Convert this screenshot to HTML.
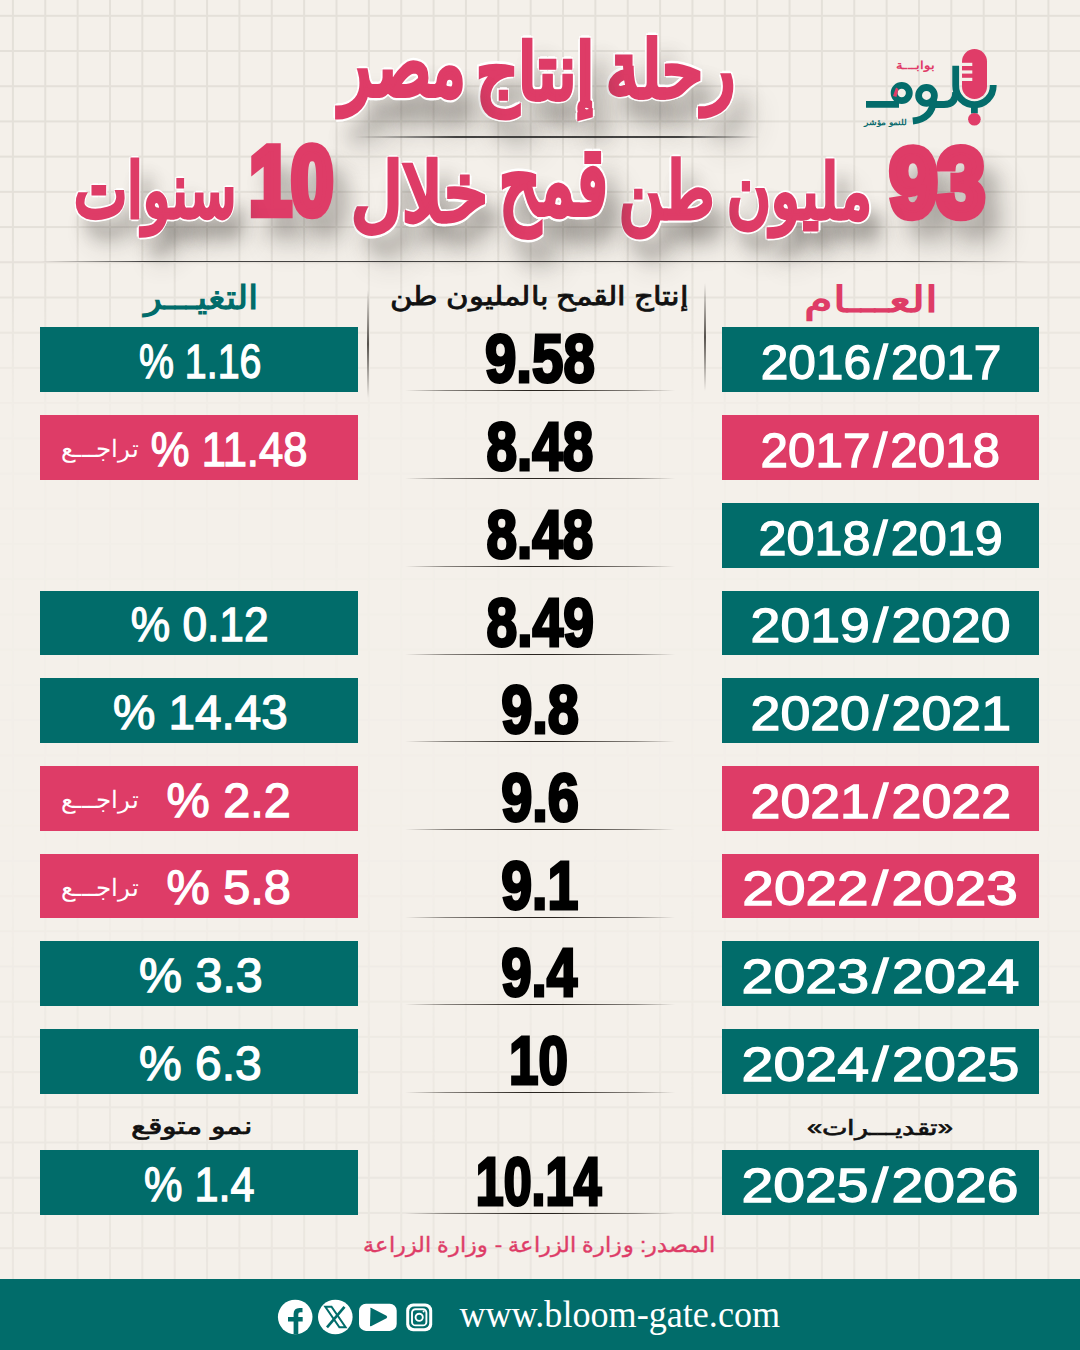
<!DOCTYPE html><html lang="ar"><head><meta charset="utf-8"><title>رحلة إنتاج مصر - 93 مليون طن قمح خلال 10 سنوات</title><style>*{margin:0;padding:0;box-sizing:border-box}
html,body{width:1080px;height:1350px;overflow:hidden}
body{position:relative;font-family:"Liberation Sans",sans-serif}
.tx{position:absolute;white-space:nowrap;transform-origin:0 0}
.sl{display:inline-block;margin:0 3px}
body{background:#f4f0ea}
.bar{position:absolute;height:64.5px;width:317.5px}
.sep{position:absolute;left:405px;width:270px;height:1.2px;background:linear-gradient(90deg,rgba(50,45,40,0),rgba(50,45,40,.55) 15%,rgba(20,15,10,.9) 45%,rgba(20,15,10,.9) 55%,rgba(50,45,40,.55) 85%,rgba(50,45,40,0))}
.vl{position:absolute;width:1.6px;background:linear-gradient(180deg,rgba(60,55,50,0),rgba(60,55,50,.85) 50%,rgba(60,55,50,0))}
.hl{position:absolute;height:1.6px}
.foot{position:absolute;left:0;top:1279px;width:1080px;height:71px;background:#016c6a}
</style></head><body><svg class="grid" width="1080" height="1350" viewBox="0 0 1080 1350" style="position:absolute;left:0;top:0;-webkit-mask-image:linear-gradient(180deg,#000 0,#000 240px,rgba(0,0,0,.8) 300px,rgba(0,0,0,.55) 340px,rgba(0,0,0,.1) 420px,rgba(0,0,0,.04) 850px,rgba(0,0,0,.3) 1000px,rgba(0,0,0,.55) 1150px,rgba(0,0,0,.65) 1350px);mask-image:linear-gradient(180deg,#000 0,#000 240px,rgba(0,0,0,.8) 300px,rgba(0,0,0,.55) 340px,rgba(0,0,0,.1) 420px,rgba(0,0,0,.04) 850px,rgba(0,0,0,.3) 1000px,rgba(0,0,0,.55) 1150px,rgba(0,0,0,.65) 1350px)"><g fill="#e4e0d9"><rect x="11.90" y="0" width="2" height="1350"/><rect x="44.26" y="0" width="2" height="1350"/><rect x="76.62" y="0" width="2" height="1350"/><rect x="108.98" y="0" width="2" height="1350"/><rect x="141.34" y="0" width="2" height="1350"/><rect x="173.70" y="0" width="2" height="1350"/><rect x="206.06" y="0" width="2" height="1350"/><rect x="238.42" y="0" width="2" height="1350"/><rect x="270.78" y="0" width="2" height="1350"/><rect x="303.14" y="0" width="2" height="1350"/><rect x="335.50" y="0" width="2" height="1350"/><rect x="367.86" y="0" width="2" height="1350"/><rect x="400.22" y="0" width="2" height="1350"/><rect x="432.58" y="0" width="2" height="1350"/><rect x="464.94" y="0" width="2" height="1350"/><rect x="497.30" y="0" width="2" height="1350"/><rect x="529.66" y="0" width="2" height="1350"/><rect x="562.02" y="0" width="2" height="1350"/><rect x="594.38" y="0" width="2" height="1350"/><rect x="626.74" y="0" width="2" height="1350"/><rect x="659.10" y="0" width="2" height="1350"/><rect x="691.46" y="0" width="2" height="1350"/><rect x="723.82" y="0" width="2" height="1350"/><rect x="756.18" y="0" width="2" height="1350"/><rect x="788.54" y="0" width="2" height="1350"/><rect x="820.90" y="0" width="2" height="1350"/><rect x="853.26" y="0" width="2" height="1350"/><rect x="885.62" y="0" width="2" height="1350"/><rect x="917.98" y="0" width="2" height="1350"/><rect x="950.34" y="0" width="2" height="1350"/><rect x="982.70" y="0" width="2" height="1350"/><rect x="1015.06" y="0" width="2" height="1350"/><rect x="1047.42" y="0" width="2" height="1350"/><rect x="0" y="14.80" width="1080" height="2"/><rect x="0" y="50.01" width="1080" height="2"/><rect x="0" y="85.22" width="1080" height="2"/><rect x="0" y="120.43" width="1080" height="2"/><rect x="0" y="155.64" width="1080" height="2"/><rect x="0" y="190.85" width="1080" height="2"/><rect x="0" y="226.06" width="1080" height="2"/><rect x="0" y="261.27" width="1080" height="2"/><rect x="0" y="296.48" width="1080" height="2"/><rect x="0" y="331.69" width="1080" height="2"/><rect x="0" y="366.90" width="1080" height="2"/><rect x="0" y="402.11" width="1080" height="2"/><rect x="0" y="437.32" width="1080" height="2"/><rect x="0" y="472.53" width="1080" height="2"/><rect x="0" y="507.74" width="1080" height="2"/><rect x="0" y="542.95" width="1080" height="2"/><rect x="0" y="578.16" width="1080" height="2"/><rect x="0" y="613.37" width="1080" height="2"/><rect x="0" y="648.58" width="1080" height="2"/><rect x="0" y="683.79" width="1080" height="2"/><rect x="0" y="719.00" width="1080" height="2"/><rect x="0" y="754.21" width="1080" height="2"/><rect x="0" y="789.42" width="1080" height="2"/><rect x="0" y="824.63" width="1080" height="2"/><rect x="0" y="859.84" width="1080" height="2"/><rect x="0" y="895.05" width="1080" height="2"/><rect x="0" y="930.26" width="1080" height="2"/><rect x="0" y="965.47" width="1080" height="2"/><rect x="0" y="1000.68" width="1080" height="2"/><rect x="0" y="1035.89" width="1080" height="2"/><rect x="0" y="1071.10" width="1080" height="2"/><rect x="0" y="1106.31" width="1080" height="2"/><rect x="0" y="1141.52" width="1080" height="2"/><rect x="0" y="1176.73" width="1080" height="2"/><rect x="0" y="1211.94" width="1080" height="2"/><rect x="0" y="1247.15" width="1080" height="2"/><rect x="0" y="1282.36" width="1080" height="2"/><rect x="0" y="1317.57" width="1080" height="2"/></g></svg><div class="hl" style="left:355px;top:136px;width:405px;background:linear-gradient(90deg,rgba(40,40,40,0),rgba(40,40,40,.85) 25%,rgba(40,40,40,.85) 80%,rgba(40,40,40,0))"></div><div class="hl" style="left:0;top:260.5px;width:1030px;background:linear-gradient(90deg,rgba(40,40,40,0) 4%,rgba(40,40,40,.35) 8%,rgba(40,40,40,.85) 14%,rgba(40,40,40,.85) 88%,rgba(40,40,40,0))"></div><div class="vl" style="left:367.4px;top:290px;height:108px"></div><div class="vl" style="left:704px;top:283px;height:108px"></div><div class="bar" style="left:721.5px;top:327px;background:#016c6a"></div><div class="bar" style="left:40px;top:327px;background:#016c6a"></div><div class="sep" style="top:390px"></div><div class="bar" style="left:721.5px;top:415px;background:#de3c67"></div><div class="bar" style="left:40px;top:415px;background:#de3c67"></div><div class="sep" style="top:478px"></div><div class="bar" style="left:721.5px;top:503px;background:#016c6a"></div><div class="sep" style="top:566px"></div><div class="bar" style="left:721.5px;top:590.5px;background:#016c6a"></div><div class="bar" style="left:40px;top:590.5px;background:#016c6a"></div><div class="sep" style="top:653.5px"></div><div class="bar" style="left:721.5px;top:678px;background:#016c6a"></div><div class="bar" style="left:40px;top:678px;background:#016c6a"></div><div class="sep" style="top:741px"></div><div class="bar" style="left:721.5px;top:766px;background:#de3c67"></div><div class="bar" style="left:40px;top:766px;background:#de3c67"></div><div class="sep" style="top:829px"></div><div class="bar" style="left:721.5px;top:853.5px;background:#de3c67"></div><div class="bar" style="left:40px;top:853.5px;background:#de3c67"></div><div class="sep" style="top:916.5px"></div><div class="bar" style="left:721.5px;top:941px;background:#016c6a"></div><div class="bar" style="left:40px;top:941px;background:#016c6a"></div><div class="sep" style="top:1004px"></div><div class="bar" style="left:721.5px;top:1029px;background:#016c6a"></div><div class="bar" style="left:40px;top:1029px;background:#016c6a"></div><div class="sep" style="top:1092px"></div><div class="bar" style="left:721.5px;top:1150px;background:#016c6a"></div><div class="bar" style="left:40px;top:1150px;background:#016c6a"></div><div class="sep" style="top:1213px"></div><div class="foot"></div><div class="tx" id="t1a" style="font-weight:bold;font-size:80px;line-height:120px;direction:rtl;-webkit-text-stroke:3px currentColor;color:#de3c67;left:100px;top:100px;transform:matrix(0.8257,0,0,0.9729,505.52,-88.05);text-shadow:3.5px 0 0 #fff,-3.5px 0 0 #fff,0 3.5px 0 #fff,0 -3.5px 0 #fff,2.5px 2.5px 0 #fff,-2.5px 2.5px 0 #fff,2.5px -2.5px 0 #fff,-2.5px -2.5px 0 #fff,16px 20px 22px rgba(60,55,50,.42),22px 30px 34px rgba(60,55,50,.3)">رحلة</div><div class="tx" id="t1b" style="font-weight:bold;font-size:80px;line-height:120px;direction:rtl;-webkit-text-stroke:3px currentColor;color:#de3c67;left:100px;top:100px;transform:matrix(0.8245,0,0,0.9612,375.53,-84.77);text-shadow:3.5px 0 0 #fff,-3.5px 0 0 #fff,0 3.5px 0 #fff,0 -3.5px 0 #fff,2.5px 2.5px 0 #fff,-2.5px 2.5px 0 #fff,2.5px -2.5px 0 #fff,-2.5px -2.5px 0 #fff,16px 20px 22px rgba(60,55,50,.42),22px 30px 34px rgba(60,55,50,.3)">إنتاج</div><div class="tx" id="t1c" style="font-weight:bold;font-size:80px;line-height:120px;direction:rtl;-webkit-text-stroke:3px currentColor;color:#de3c67;left:100px;top:100px;transform:matrix(0.8057,0,0,1.0944,240.13,-100.49);text-shadow:3.5px 0 0 #fff,-3.5px 0 0 #fff,0 3.5px 0 #fff,0 -3.5px 0 #fff,2.5px 2.5px 0 #fff,-2.5px 2.5px 0 #fff,2.5px -2.5px 0 #fff,-2.5px -2.5px 0 #fff,16px 20px 22px rgba(60,55,50,.42),22px 30px 34px rgba(60,55,50,.3)">مصر</div><div class="tx" id="t2a" style="font-weight:bold;font-size:100px;line-height:130px;-webkit-text-stroke:9px currentColor;color:#de3c67;left:100px;top:100px;transform:matrix(0.8540,0,0,0.9557,789.85,20.65);text-shadow:3.5px 0 0 #fff,-3.5px 0 0 #fff,0 3.5px 0 #fff,0 -3.5px 0 #fff,2.5px 2.5px 0 #fff,-2.5px 2.5px 0 #fff,2.5px -2.5px 0 #fff,-2.5px -2.5px 0 #fff,16px 20px 22px rgba(60,55,50,.42),22px 30px 34px rgba(60,55,50,.3)">93</div><div class="tx" id="t2b" style="font-weight:bold;font-size:90px;line-height:130px;direction:rtl;-webkit-text-stroke:3px currentColor;color:#de3c67;left:100px;top:100px;transform:matrix(0.6667,0,0,0.8375,626.93,37.36);text-shadow:3.5px 0 0 #fff,-3.5px 0 0 #fff,0 3.5px 0 #fff,0 -3.5px 0 #fff,2.5px 2.5px 0 #fff,-2.5px 2.5px 0 #fff,2.5px -2.5px 0 #fff,-2.5px -2.5px 0 #fff,16px 20px 22px rgba(60,55,50,.42),22px 30px 34px rgba(60,55,50,.3)">مليون</div><div class="tx" id="t2c" style="font-weight:bold;font-size:90px;line-height:130px;direction:rtl;-webkit-text-stroke:3px currentColor;color:#de3c67;left:100px;top:100px;transform:matrix(0.6729,0,0,0.8646,519.31,35.39);text-shadow:3.5px 0 0 #fff,-3.5px 0 0 #fff,0 3.5px 0 #fff,0 -3.5px 0 #fff,2.5px 2.5px 0 #fff,-2.5px 2.5px 0 #fff,2.5px -2.5px 0 #fff,-2.5px -2.5px 0 #fff,16px 20px 22px rgba(60,55,50,.42),22px 30px 34px rgba(60,55,50,.3)">طن</div><div class="tx" id="t2d" style="font-weight:bold;font-size:90px;line-height:130px;direction:rtl;-webkit-text-stroke:3px currentColor;color:#de3c67;left:100px;top:100px;transform:matrix(0.7124,0,0,1.0388,398.85,14.30);text-shadow:3.5px 0 0 #fff,-3.5px 0 0 #fff,0 3.5px 0 #fff,0 -3.5px 0 #fff,2.5px 2.5px 0 #fff,-2.5px 2.5px 0 #fff,2.5px -2.5px 0 #fff,-2.5px -2.5px 0 #fff,16px 20px 22px rgba(60,55,50,.42),22px 30px 34px rgba(60,55,50,.3)">قمح</div><div class="tx" id="t2e" style="font-weight:bold;font-size:90px;line-height:130px;direction:rtl;-webkit-text-stroke:3px currentColor;color:#de3c67;left:100px;top:100px;transform:matrix(0.7839,0,0,0.8943,250.95,35.64);text-shadow:3.5px 0 0 #fff,-3.5px 0 0 #fff,0 3.5px 0 #fff,0 -3.5px 0 #fff,2.5px 2.5px 0 #fff,-2.5px 2.5px 0 #fff,2.5px -2.5px 0 #fff,-2.5px -2.5px 0 #fff,16px 20px 22px rgba(60,55,50,.42),22px 30px 34px rgba(60,55,50,.3)">خلال</div><div class="tx" id="t2f" style="font-weight:bold;font-size:100px;line-height:130px;-webkit-text-stroke:9px currentColor;color:#de3c67;left:100px;top:100px;transform:matrix(0.7523,0,0,0.9620,149.50,17.99);text-shadow:3.5px 0 0 #fff,-3.5px 0 0 #fff,0 3.5px 0 #fff,0 -3.5px 0 #fff,2.5px 2.5px 0 #fff,-2.5px 2.5px 0 #fff,2.5px -2.5px 0 #fff,-2.5px -2.5px 0 #fff,16px 20px 22px rgba(60,55,50,.42),22px 30px 34px rgba(60,55,50,.3)">10</div><div class="tx" id="t2g" style="font-weight:bold;font-size:90px;line-height:130px;direction:rtl;-webkit-text-stroke:3px currentColor;color:#de3c67;left:100px;top:100px;transform:matrix(0.6246,0,0,0.8302,-26.17,37.34);text-shadow:3.5px 0 0 #fff,-3.5px 0 0 #fff,0 3.5px 0 #fff,0 -3.5px 0 #fff,2.5px 2.5px 0 #fff,-2.5px 2.5px 0 #fff,2.5px -2.5px 0 #fff,-2.5px -2.5px 0 #fff,16px 20px 22px rgba(60,55,50,.42),22px 30px 34px rgba(60,55,50,.3)">سنوات</div><div class="tx" id="h1" style="font-weight:bold;font-size:40px;line-height:60px;direction:rtl;color:#de3c67;left:100px;top:100px;transform:matrix(1.1573,0,0,0.8976,704.39,172.33);">العـــام</div><div class="tx" id="h3" style="font-weight:bold;font-size:40px;line-height:60px;direction:rtl;color:#016c6a;left:100px;top:100px;transform:matrix(0.9146,0,0,0.8146,44.33,173.41);">التغيـــر</div><div class="tx" id="h2" style="font-size:30px;line-height:50px;direction:rtl;-webkit-text-stroke:0.9px currentColor;color:#111;left:100px;top:100px;transform:matrix(1.0162,0,0,0.8581,289.97,175.10);">إنتاج القمح بالمليون طن</div><div class="tx" id="h4" style="font-size:26px;line-height:40px;direction:rtl;-webkit-text-stroke:0.8px currentColor;color:#111;left:100px;top:100px;transform:matrix(1.1730,0,0,0.8917,31.13,1007.70);">نمو متوقع</div><div class="tx" id="h5" style="font-size:26px;line-height:40px;direction:rtl;-webkit-text-stroke:0.8px currentColor;color:#111;left:100px;top:100px;transform:matrix(1.0511,0,0,0.8148,706.95,1011.17);">«تقديـــرات»</div><div class="tx" id="src" style="font-size:26px;line-height:40px;direction:rtl;-webkit-text-stroke:0.5px currentColor;color:#de3c67;left:100px;top:100px;transform:matrix(0.8579,0,0,0.8074,263.08,1128.33);">المصدر: وزارة الزراعة - وزارة الزراعة</div><div class="tx" id="lg1" style="font-weight:bold;font-size:20px;line-height:30px;direction:rtl;color:#e03c68;left:100px;top:100px;transform:matrix(0.6852,0,0,0.5714,795.91,-43.23);">بوابـــة</div><div class="tx" id="lg2" style="font-weight:bold;font-size:14px;line-height:24px;direction:rtl;color:#0b6b6d;left:100px;top:100px;transform:matrix(0.6358,0,0,0.5600,763.84,15.14);">للنمو مؤشر</div><div class="tx" id="url" style="font-family:'Liberation Serif',serif;font-size:40px;line-height:60px;color:#fff;left:100px;top:100px;transform:matrix(0.9031,0,0,0.9553,359.40,1186.03);">www.bloom-gate.com</div><div class="tx" id="y0" style="font-size:48px;line-height:60px;-webkit-text-stroke:1.3px currentColor;color:#fff;left:100px;top:100px;transform:matrix(1.0328,0,0,1.0000,660.73,232.50);">2016<span class="sl">/</span>2017</div><div class="tx" id="n0" style="font-weight:bold;font-size:100px;line-height:120px;-webkit-text-stroke:4.5px currentColor;color:#000;left:100px;top:100px;transform:matrix(0.5648,0,0,0.6933,384.94,216.55);text-shadow:0 0 2px #fff">9.58</div><div class="tx" id="p0" style="font-size:48px;line-height:60px;-webkit-text-stroke:1.3px currentColor;color:#fff;left:100px;top:100px;transform:matrix(0.8190,0,0,0.9857,38.98,232.17);">% 1.16</div><div class="tx" id="y1" style="font-size:48px;line-height:60px;-webkit-text-stroke:1.3px currentColor;color:#fff;left:100px;top:100px;transform:matrix(1.0283,0,0,1.0000,660.54,320.50);">2017<span class="sl">/</span>2018</div><div class="tx" id="n1" style="font-weight:bold;font-size:100px;line-height:120px;-webkit-text-stroke:4.5px currentColor;color:#000;left:100px;top:100px;transform:matrix(0.5492,0,0,0.6933,386.45,304.55);text-shadow:0 0 2px #fff">8.48</div><div class="tx" id="p1" style="font-size:48px;line-height:60px;-webkit-text-stroke:1.3px currentColor;color:#fff;left:100px;top:100px;transform:matrix(0.9076,0,0,0.9857,50.79,320.17);">% 11.48</div><div class="tx" id="r1" style="font-size:24px;line-height:40px;direction:rtl;color:#fff;left:100px;top:100px;transform:matrix(1.0270,0,0,1.0000,-39.03,329.00);">تراجـــع</div><div class="tx" id="y2" style="font-size:48px;line-height:60px;-webkit-text-stroke:1.3px currentColor;color:#fff;left:100px;top:100px;transform:matrix(1.0493,0,0,1.0000,658.40,408.50);">2018<span class="sl">/</span>2019</div><div class="tx" id="n2" style="font-weight:bold;font-size:100px;line-height:120px;-webkit-text-stroke:4.5px currentColor;color:#000;left:100px;top:100px;transform:matrix(0.5492,0,0,0.6933,386.45,392.55);text-shadow:0 0 2px #fff">8.48</div><div class="tx" id="y3" style="font-size:48px;line-height:60px;-webkit-text-stroke:1.3px currentColor;color:#fff;left:100px;top:100px;transform:matrix(1.1165,0,0,1.0000,650.57,496.00);">2019<span class="sl">/</span>2020</div><div class="tx" id="n3" style="font-weight:bold;font-size:100px;line-height:120px;-webkit-text-stroke:4.5px currentColor;color:#000;left:100px;top:100px;transform:matrix(0.5521,0,0,0.6933,386.45,480.05);text-shadow:0 0 2px #fff">8.49</div><div class="tx" id="p3" style="font-size:48px;line-height:60px;-webkit-text-stroke:1.3px currentColor;color:#fff;left:100px;top:100px;transform:matrix(0.9224,0,0,0.9857,30.78,495.67);">% 0.12</div><div class="tx" id="y4" style="font-size:48px;line-height:60px;-webkit-text-stroke:1.3px currentColor;color:#fff;left:100px;top:100px;transform:matrix(1.1183,0,0,1.0000,650.56,583.50);">2020<span class="sl">/</span>2021</div><div class="tx" id="n4" style="font-weight:bold;font-size:100px;line-height:120px;-webkit-text-stroke:4.5px currentColor;color:#000;left:100px;top:100px;transform:matrix(0.5591,0,0,0.6933,401.14,567.55);text-shadow:0 0 2px #fff">9.8</div><div class="tx" id="p4" style="font-size:48px;line-height:60px;-webkit-text-stroke:1.3px currentColor;color:#fff;left:100px;top:100px;transform:matrix(0.9925,0,0,0.9857,13.01,583.17);">% 14.43</div><div class="tx" id="y5" style="font-size:48px;line-height:60px;-webkit-text-stroke:1.3px currentColor;color:#fff;left:100px;top:100px;transform:matrix(1.1183,0,0,1.0000,650.56,671.50);">2021<span class="sl">/</span>2022</div><div class="tx" id="n5" style="font-weight:bold;font-size:100px;line-height:120px;-webkit-text-stroke:4.5px currentColor;color:#000;left:100px;top:100px;transform:matrix(0.5591,0,0,0.6933,401.14,655.55);text-shadow:0 0 2px #fff">9.6</div><div class="tx" id="p5" style="font-size:48px;line-height:60px;-webkit-text-stroke:1.3px currentColor;color:#fff;left:100px;top:100px;transform:matrix(1.0125,0,0,0.9857,66.49,671.17);">% 2.2</div><div class="tx" id="r5" style="font-size:24px;line-height:40px;direction:rtl;color:#fff;left:100px;top:100px;transform:matrix(1.0270,0,0,1.0000,-39.03,680.00);">تراجـــع</div><div class="tx" id="y6" style="font-size:48px;line-height:60px;-webkit-text-stroke:1.3px currentColor;color:#fff;left:100px;top:100px;transform:matrix(1.1826,0,0,1.0000,642.33,759.00);">2022<span class="sl">/</span>2023</div><div class="tx" id="n6" style="font-weight:bold;font-size:100px;line-height:120px;-webkit-text-stroke:4.5px currentColor;color:#000;left:100px;top:100px;transform:matrix(0.5551,0,0,0.6933,401.14,743.05);text-shadow:0 0 2px #fff">9.1</div><div class="tx" id="p6" style="font-size:48px;line-height:60px;-webkit-text-stroke:1.3px currentColor;color:#fff;left:100px;top:100px;transform:matrix(1.0125,0,0,0.9857,66.49,758.67);">% 5.8</div><div class="tx" id="r6" style="font-size:24px;line-height:40px;direction:rtl;color:#fff;left:100px;top:100px;transform:matrix(1.0270,0,0,1.0000,-39.03,767.50);">تراجـــع</div><div class="tx" id="y7" style="font-size:48px;line-height:60px;-webkit-text-stroke:1.3px currentColor;color:#fff;left:100px;top:100px;transform:matrix(1.1930,0,0,1.0000,641.61,846.50);">2023<span class="sl">/</span>2024</div><div class="tx" id="n7" style="font-weight:bold;font-size:100px;line-height:120px;-webkit-text-stroke:4.5px currentColor;color:#000;left:100px;top:100px;transform:matrix(0.5471,0,0,0.6933,401.15,830.55);text-shadow:0 0 2px #fff">9.4</div><div class="tx" id="p7" style="font-size:48px;line-height:60px;-webkit-text-stroke:1.3px currentColor;color:#fff;left:100px;top:100px;transform:matrix(1.0083,0,0,0.9857,38.99,846.17);">% 3.3</div><div class="tx" id="y8" style="font-size:48px;line-height:60px;-webkit-text-stroke:1.3px currentColor;color:#fff;left:100px;top:100px;transform:matrix(1.1930,0,0,1.0000,641.61,934.50);">2024<span class="sl">/</span>2025</div><div class="tx" id="n8" style="font-weight:bold;font-size:100px;line-height:120px;-webkit-text-stroke:4.5px currentColor;color:#000;left:100px;top:100px;transform:matrix(0.5295,0,0,0.6933,408.98,918.55);text-shadow:0 0 2px #fff">10</div><div class="tx" id="p8" style="font-size:48px;line-height:60px;-webkit-text-stroke:1.3px currentColor;color:#fff;left:100px;top:100px;transform:matrix(1.0000,0,0,0.9857,39.00,934.17);">% 6.3</div><div class="tx" id="y9" style="font-size:48px;line-height:60px;-webkit-text-stroke:1.3px currentColor;color:#fff;left:100px;top:100px;transform:matrix(1.1891,0,0,1.0000,641.62,1055.50);">2025<span class="sl">/</span>2026</div><div class="tx" id="n9" style="font-weight:bold;font-size:100px;line-height:120px;-webkit-text-stroke:4.5px currentColor;color:#000;left:100px;top:100px;transform:matrix(0.5016,0,0,0.6933,375.79,1039.55);text-shadow:0 0 2px #fff">10.14</div><div class="tx" id="p9" style="font-size:48px;line-height:60px;-webkit-text-stroke:1.3px currentColor;color:#fff;left:100px;top:100px;transform:matrix(0.9008,0,0,0.9857,44.10,1055.17);">% 1.4</div><svg style="position:absolute;left:0;top:0" width="1080" height="1350" viewBox="0 0 1080 1350">
<g id="logo">
<rect x="962" y="49" width="25" height="50" rx="12.5" fill="#e03c68"/>
<g fill="#f4f0ea"><rect x="960" y="62.8" width="12.3" height="3.2"/><rect x="960" y="70.4" width="12.3" height="3.2"/><rect x="960" y="77.8" width="12.3" height="3.2"/></g>
<g fill="none" stroke="#046c6b" stroke-width="6.8">
<path d="M955.7 65.7 V86 A18.75 18.75 0 0 0 993.2 86 V85"/>
<path d="M974.4 104 V113.5"/>
<path d="M955.7 92 Q955.7 104.5 944 104.5 H934"/><path d="M866 104.3 H899"/>
<circle cx="926.5" cy="95.4" r="7.9"/>
<path d="M933.8 100 Q932 119 912.8 121"/>
<circle cx="901.7" cy="93" r="7.6"/>
</g>
<circle cx="974.4" cy="119.3" r="6.3" fill="#e03c68"/>
<path d="M896 87.5 L898.5 89 L896.5 97 L893 96 Z" fill="#e03c68"/>
</g>
<g id="icons">
<circle cx="295.2" cy="1317" r="17.3" fill="#fff"/>
<path d="M293.6 1334.3 V1314 Q293.6 1308 299.5 1308 H302.5 V1312.3 H300.2 Q298.3 1312.3 298.3 1314.3 V1334.3 Z M288 1317 H302.7 V1321.6 H288 Z" fill="#016c6a"/>
<circle cx="335.3" cy="1317" r="17.3" fill="#fff"/>
<path d="M325.3 1306.8 H331.5 L345.6 1327.3 H339.4 Z" fill="none" stroke="#016c6a" stroke-width="2"/>
<path d="M344.5 1306.8 L327 1327.3" stroke="#016c6a" stroke-width="2.6"/>
<rect x="359" y="1303.7" width="37.7" height="27.2" rx="7" fill="#fff"/>
<path d="M370.5 1309 Q369.5 1307.2 371.5 1308 L386.5 1315.8 Q388 1317 386.5 1318.2 L371.5 1326 Q369.5 1326.8 370 1325 Z" fill="#016c6a"/>
<rect x="406.2" y="1303.4" width="26" height="27.8" rx="7" fill="#fff"/>
<rect x="409.2" y="1306.4" width="20" height="21.8" rx="5" fill="#016c6a"/>
<rect x="412" y="1309.2" width="14.4" height="16.2" rx="3.5" fill="none" stroke="#fff" stroke-width="1.9"/>
<circle cx="419.2" cy="1317.3" r="3.6" fill="none" stroke="#fff" stroke-width="1.9"/>
<circle cx="423.6" cy="1311.6" r="1" fill="#fff"/>
</g>
</svg>
</body></html>
